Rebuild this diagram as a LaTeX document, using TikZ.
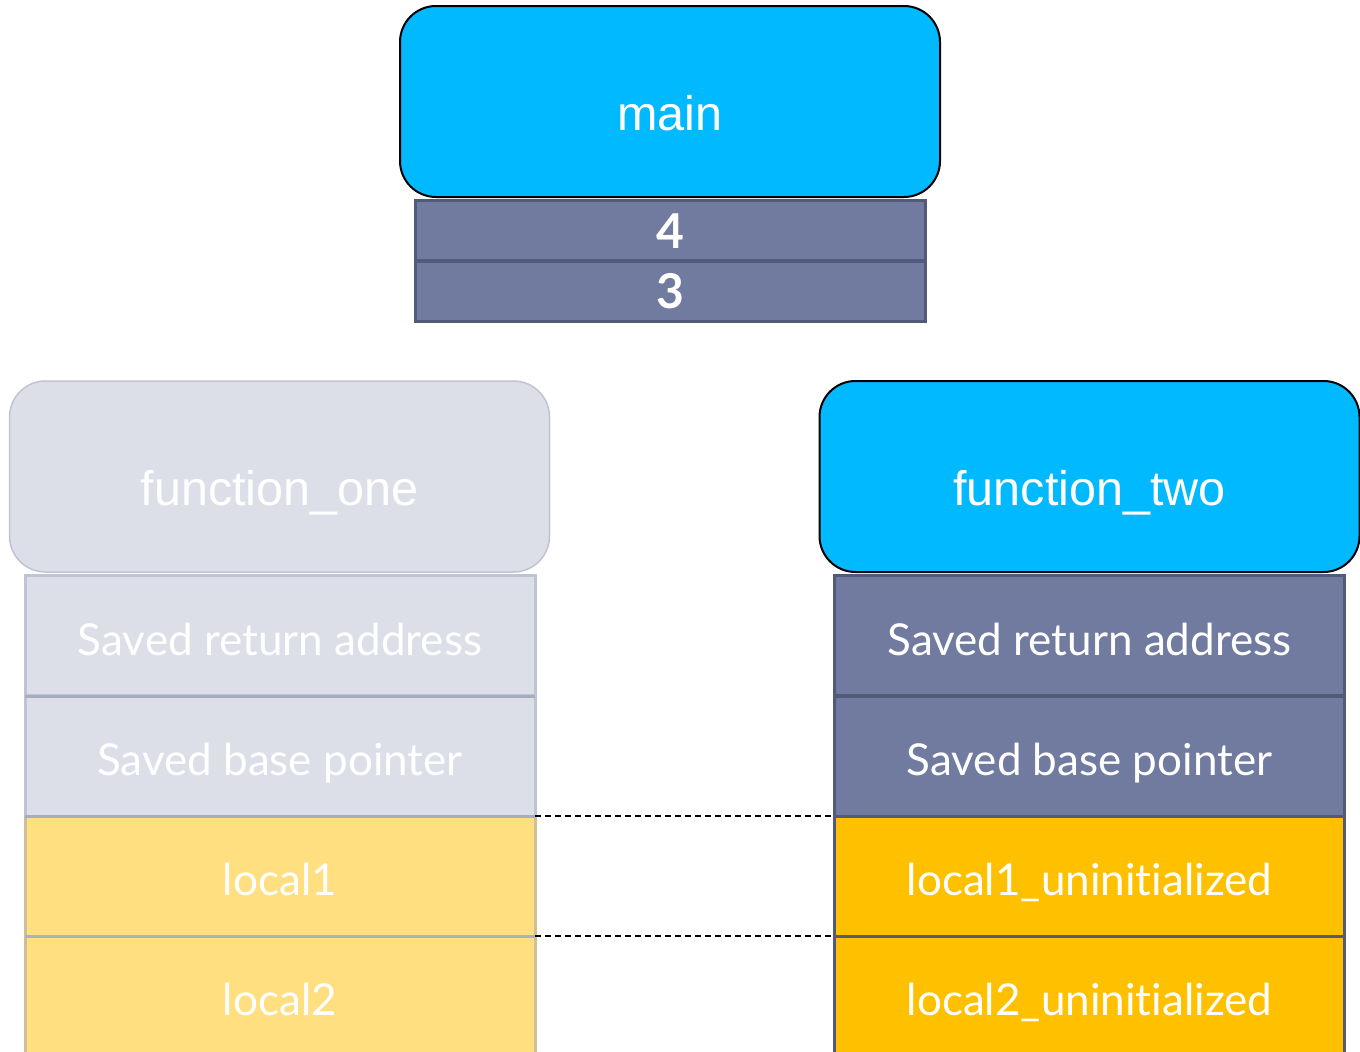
\documentclass[tikz,border=0pt]{standalone}
\usepackage{fontspec}
\setmainfont{Lato}[Ligatures=NoCommon]
\newfontfamily\arialfont{Liberation Sans}
\definecolor{frameblue}{RGB}{0,185,255}
\definecolor{slate}{RGB}{113,123,160}
\definecolor{slateedge}{RGB}{82,90,122}
\definecolor{paleslate}{RGB}{220,223,232}
\definecolor{paleedge}{RGB}{192,196,210}
\definecolor{palesep}{RGB}{168,173,190}
\definecolor{paleyellow}{RGB}{255,223,128}
\definecolor{paleyedge}{RGB}{205,192,150}
\definecolor{gold}{RGB}{255,192,0}
\tikzset{
  frame/.style={rectangle, rounded corners=36pt, minimum width=540pt, minimum height=191pt,
    inner sep=0pt, outer sep=0pt, text=white, text height=57pt, text depth=0pt,
    font=\arialfont\fontsize{48.5}{52}\selectfont},
  activeframe/.style={frame, fill=frameblue, draw=black, line width=2pt},
  doneframe/.style={frame, fill=paleslate, draw=paleedge, line width=1.5pt},
  cell/.style={rectangle, minimum width=510pt, minimum height=120pt, inner sep=0pt, outer sep=0pt,
    text=white, text height=39pt, text depth=0pt, font=\fontsize{44}{48}\selectfont},
  slatecell/.style={cell, fill=slate, draw=slateedge, line width=3pt},
  palecell/.style={cell, fill=paleslate, draw=paleedge, line width=3pt},
  goldcell/.style={cell, fill=gold, draw=slateedge, line width=3pt},
  yellowcell/.style={cell, fill=paleyellow, draw=paleyedge, line width=3pt},
  argcell/.style={slatecell, minimum height=60pt, text height=35pt,
    font=\fontsize{48}{52}\selectfont\bfseries},
  link/.style={draw=black, line width=1.5pt, dash pattern=on 6pt off 4pt},
}
\begin{document}
\begin{tikzpicture}[x=1pt,y=-1pt]
\useasboundingbox (0,0) rectangle (1360,1052);
\clip (0,0) rectangle (1360,1052);

% caller frame and its arguments
\node[activeframe] (main) at (670,101.5) {main};
\node[argcell] (arg4) at (670,230.5) {4};
\node[argcell] (arg3) at (670,291) {3};

% finished call: function_one
\node[doneframe] (f1) at (279.5,476.5) {function\_one};
\node[palecell] (l1) at (280,635.5) {Saved return address};
\node[palecell] (l2) at (280,756) {Saved base pointer};
\node[yellowcell] (l3) at (280,876) {local1};
\node[yellowcell] (l4) at (280,996) {local2};
\draw[palesep, line width=3pt] (l2.north west) -- (l2.north east);
\draw[palesep, line width=3pt] (l3.north west) -- (l3.north east);
\draw[palesep!80!paleyedge, line width=3pt] (l4.north west) -- (l4.north east);

% current call: function_two
\node[activeframe] (f2) at (1089.5,476.5) {function\_two};
\node[slatecell] (r1) at (1089.5,635.5) {Saved return address};
\node[slatecell] (r2) at (1089.5,756) {Saved base pointer};
\node[goldcell] (r3) at (1089.5,876) {local1\_uninitialized};
\node[goldcell] (r4) at (1089.5,996) {local2\_uninitialized};

% same slots in both frames
\draw[link] (l3.north east) -- (r3.north west);
\draw[link] (l4.north east) -- (r4.north west);
\end{tikzpicture}
\end{document}
